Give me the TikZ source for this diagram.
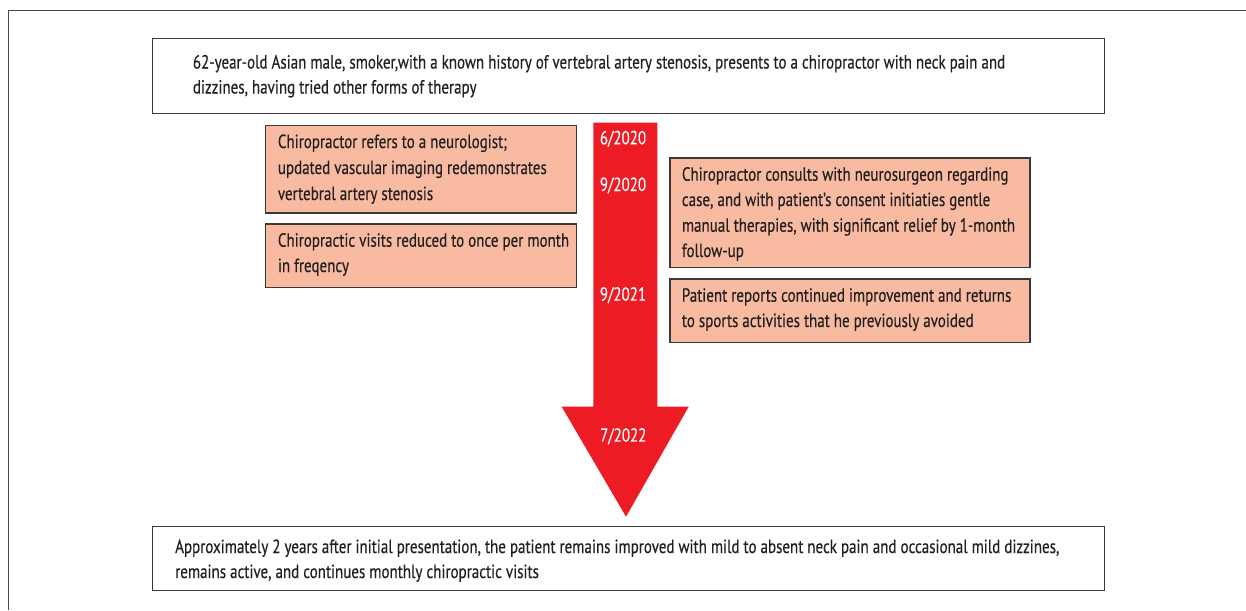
\documentclass[tikz,border=0pt]{standalone}
\usepackage{fontspec}
\setmainfont{PT Sans}[FakeStretch=0.79,FakeBold=0.35]
\definecolor{arrowred}{HTML}{ED1C24}
\definecolor{boxfill}{HTML}{F8BBA2}
\definecolor{edgec}{HTML}{3A3A3A}
\definecolor{framec}{HTML}{4A4A4A}
\definecolor{textc}{HTML}{231F20}
\begin{document}
\begin{tikzpicture}[x=1pt,y=-1pt,
  whitebox/.style={draw=edgec, line width=1.2pt, fill=white, anchor=north west, inner sep=0pt},
  salmonbox/.style={draw=edgec, line width=1.2pt, fill=boxfill, anchor=north west, inner sep=0pt},
  txt/.style={anchor=base west, inner sep=0pt, text=textc, font=\fontsize{19}{25}\selectfont},
  datetxt/.style={anchor=base, inner sep=0pt, text=white, font=\fontsize{19}{25}\selectfont}]
\useasboundingbox (0,0) rectangle (1246,610);
% outer frame
\draw[framec, line width=1pt] (8.7,610) |- (1246,10.3);
% arrow
\fill[arrowred] (593.3,122.7) -- (657.3,122.7) -- (657.3,406.7) -- (688.7,406.7)
  -- (626,516.7) -- (561.7,406.7) -- (593.3,406.7) -- cycle;
% top box
\node[whitebox, minimum width=952pt, minimum height=75.3pt] (top) at (151.7,37.7) {};
\node[txt] (top1) at (192.7,68.5) {62-year-old Asian male, smoker,with a known history of vertebral artery stenosis, presents to a chiropractor with neck pain and};
\node[txt] (top2) at (192.7,93.5) {dizzines, having tried other forms of therapy};
% left boxes
\node[salmonbox, minimum width=311pt, minimum height=87.3pt] (l1) at (265,125) {};
\node[txt] (l1a) at (277.7,148) {Chiropractor refers to a neurologist;};
\node[txt] (l1b) at (277.7,174) {updated vascular imaging redemonstrates};
\node[txt] (l1c) at (277.7,200) {vertebral artery stenosis};
\node[salmonbox, minimum width=311pt, minimum height=63.4pt] (l2) at (265,223.3) {};
\node[txt] (l2a) at (277.7,246.7) {Chiropractic visits reduced to once per month};
\node[txt] (l2b) at (277.7,272) {in freqency};
% right boxes
\node[salmonbox, minimum width=360pt, minimum height=109.4pt] (r1) at (669.3,157.3) {};
\node[txt] (r1a) at (681.7,180.7) {Chiropractor consults with neurosurgeon regarding};
\node[txt] (r1b) at (681.7,206) {case, and with patient’s consent initiaties gentle};
\node[txt] (r1c) at (681.7,231.7) {manual therapies, with significant relief by 1-month};
\node[txt] (r1d) at (681.7,257) {follow-up};
\node[salmonbox, minimum width=360pt, minimum height=63.4pt] (r2) at (669.3,278.3) {};
\node[txt] (r2a) at (681.7,301.7) {Patient reports continued improvement and returns};
\node[txt] (r2b) at (681.7,327) {to sports activities that he previously avoided};
% dates
\node[datetxt] (d1) at (623,144.3) {6/2020};
\node[datetxt] (d2) at (623,191) {9/2020};
\node[datetxt] (d3) at (623,300.7) {9/2021};
\node[datetxt] (d4) at (623.3,441.7) {7/2022};
% bottom box
\node[whitebox, minimum width=952pt, minimum height=64.3pt] (bot) at (152,525.7) {};
\node[txt] (bot1) at (175,553) {Approximately 2 years after initial presentation, the patient remains improved with mild to absent neck pain and occasional mild dizzines,};
\node[txt] (bot2) at (175,578) {remains active, and continues monthly chiropractic visits};
\end{tikzpicture}
\end{document}
